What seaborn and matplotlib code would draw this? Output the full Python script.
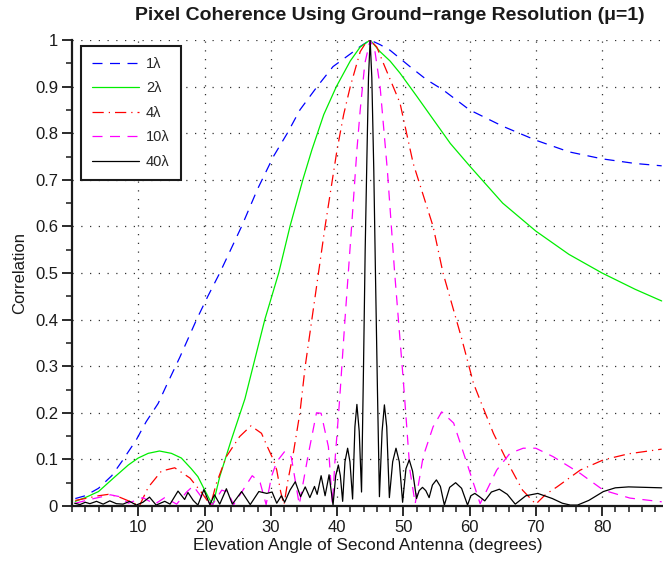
import matplotlib
matplotlib.use("Agg")
import matplotlib.pyplot as plt
import seaborn as sns
import pandas as pd
from matplotlib.ticker import MultipleLocator, FixedLocator, FuncFormatter

# ---------------- data ----------------
x_1 = [0.5, 2, 4, 6, 7.5, 9.7, 11.2, 13, 14.3, 16.3, 18.8, 20.5, 22.3, 25.6, 28, 30.4, 32.5,
       34.4, 37, 39.4, 42, 43.5, 45, 46.5, 48, 51, 53.5, 56, 60, 65, 70, 75, 80, 85, 89]
y_1 = [0.016, 0.022, 0.038, 0.065, 0.095, 0.142, 0.181, 0.22, 0.26, 0.32, 0.40, 0.45, 0.50,
       0.60, 0.68, 0.75, 0.80, 0.85, 0.90, 0.943, 0.97, 0.986, 1.0, 0.99, 0.978, 0.943, 0.915,
       0.893, 0.85, 0.815, 0.785, 0.76, 0.745, 0.735, 0.73]

x_2 = [0.5, 2, 4, 6.5, 8.5, 10, 11.5, 13.2, 15, 16.5, 18, 19, 20, 20.8, 21.3, 22.3, 24, 26.1,
       29.1, 31.2, 32.9, 34.9, 36.2, 38, 39.9, 42, 43.5, 45, 46.5, 48, 49.5, 52, 54.5, 57.1, 60,
       65, 70, 75, 80, 85, 89]
y_2 = [0.01, 0.018, 0.031, 0.063, 0.088, 0.103, 0.113, 0.118, 0.113, 0.103, 0.08, 0.063, 0.035,
       0.013, 0.004, 0.063, 0.14, 0.23, 0.40, 0.50, 0.60, 0.703, 0.764, 0.84, 0.90, 0.955, 0.985,
       1.0, 0.975, 0.955, 0.929, 0.88, 0.83, 0.778, 0.73, 0.65, 0.59, 0.54, 0.50, 0.465, 0.44]

x_4 = [0.5, 2, 4, 5.5, 7, 8.7, 10.2, 11.5, 13.5, 15.5, 17.8, 19.5, 20.9, 21.8, 23.3, 25.3, 27,
       28.6, 29.4, 30.4, 30.9, 31.5, 32.0, 32.6, 33.4, 34.4, 35.2, 36.2, 37.2, 38.2, 40, 41,
       42, 43.5, 44.3, 45, 46, 47, 49.5, 51.5, 54.5, 56, 58.8, 60.6, 61.6, 63.6, 64.6, 66.1, 68,
       70, 71.5, 73.2, 76.7, 80.2, 84, 89]
y_4 = [0.012, 0.016, 0.022, 0.025, 0.02, 0.01, 0.001, 0.04, 0.075, 0.082, 0.06, 0.03, 0.002,
       0.049, 0.106, 0.149, 0.172, 0.156, 0.13, 0.099, 0.077, 0.03, 0.003, 0.056, 0.113, 0.2,
       0.3, 0.4, 0.5, 0.6, 0.764, 0.84, 0.9, 0.975, 0.993, 1.0, 0.985, 0.95, 0.865, 0.735, 0.6,
       0.5, 0.36, 0.263, 0.227, 0.156, 0.127, 0.084, 0.034, 0.004, 0.025, 0.041, 0.077, 0.099,
       0.112, 0.122]

x_10 = [0.5, 3, 5.8, 7.2, 8.5, 10.7, 12.5, 14, 15.8, 17.3, 18.3, 19.5, 21.2, 22.6, 23.5, 24.4,
        25.8, 27.2, 28.4, 29.3, 30.1, 30.9, 32.1, 33.1, 34.3, 35.6, 36.9, 37.6, 38.7, 39.3, 39.7,
        40.4, 41.2, 41.7, 42.2, 43.0, 43.5, 44.2, 45, 45.7, 46.5, 47.6, 48.7, 50, 50.3, 51, 51.8,
        53, 54.5, 55.8, 57.6, 59.6, 61.6, 64.1, 66.1, 68.1, 70, 72.6, 76.7, 80.2, 84.2, 89]
y_10 = [0.006, 0.015, 0.024, 0.02, 0.006, 0.018, 0.004, 0.018, 0.004, 0.03, 0.043, 0.02, 0.003,
        0.034, 0.03, 0.003, 0.034, 0.065, 0.05, 0.003, 0.063, 0.095, 0.117, 0.105, 0.003, 0.106,
        0.2, 0.199, 0.127, 0.004, 0.099, 0.23, 0.4, 0.5, 0.6, 0.764, 0.85, 0.95, 1.0, 0.978, 0.9,
        0.72, 0.5, 0.27, 0.213, 0.077, 0.005, 0.106, 0.17, 0.202, 0.178, 0.092, 0.005, 0.077,
        0.113, 0.124, 0.124, 0.106, 0.07, 0.034, 0.017, 0.009]

x_40 = [0.4, 1.2, 2.0, 2.7, 3.7, 4.7, 5.7, 6.7, 7.7, 8.7, 9.7, 10.7, 11.7, 12.7, 14.0, 14.8,
        16.0, 17.0, 17.5, 18.3, 19.0, 19.9, 20.8, 21.5, 22.3, 23.3, 24.2, 25.6, 26.9, 28.2, 29.4,
        30.2, 30.9, 31.6, 32.1, 32.9, 33.7, 34.5, 35.2, 35.9, 36.6, 37.0, 37.6, 38.2, 38.8, 39.4,
        39.8, 40.2, 40.5, 40.85, 41.2, 41.6, 41.95, 42.35, 42.7, 43.0, 43.35, 43.7, 44.0, 44.25,
        44.5, 44.75, 45.0, 45.25, 45.55, 45.8, 46.1, 46.4, 46.8, 47.15, 47.5, 47.9, 48.4, 48.9,
        49.4, 49.9, 50.4, 50.9, 51.4, 52.0, 52.4, 52.9, 53.4, 53.9, 54.4, 55.0, 55.6, 56.2, 57.0,
        57.9, 58.8, 59.7, 60.2, 60.8, 61.5, 62.3, 63.3, 64.5, 65.7, 66.9, 68.5, 70.3, 72.5, 74.0,
        75.2, 76.3, 78.0, 80.2, 82.0, 84.0, 86.5, 89.0]
y_40 = [0.006, 0.003, 0.008, 0.005, 0.01, 0.004, 0.011, 0.005, 0.004, 0.01, 0.002, 0.008, 0.019,
        0.002, 0.01, 0.004, 0.032, 0.014, 0.029, 0.012, 0.002, 0.035, 0.003, 0.024, 0.004, 0.037,
        0.004, 0.031, 0.003, 0.031, 0.027, 0.03, 0.006, 0.022, 0.008, 0.034, 0.052, 0.02, 0.041,
        0.018, 0.042, 0.025, 0.065, 0.022, 0.067, 0.002,
        0.065, 0.088, 0.065, 0.01, 0.095, 0.124, 0.095, 0.015, 0.17, 0.218, 0.16, 0.03, 0.3, 0.55,
        0.74, 0.92, 1.0, 0.92, 0.72, 0.5, 0.25, 0.02, 0.16, 0.217, 0.17, 0.018, 0.095, 0.124,
        0.095, 0.008, 0.08, 0.099, 0.075, 0.016, 0.033, 0.04, 0.033, 0.018, 0.045, 0.056, 0.042,
        0.002, 0.04, 0.05, 0.038, 0.002, 0.022, 0.027, 0.02, 0.011, 0.03, 0.036, 0.025, 0.004,
        0.022, 0.027, 0.016, 0.006, 0.002, 0.002, 0.012, 0.031, 0.039, 0.041, 0.04, 0.039]

labels = ["1\u03bb", "2\u03bb", "4\u03bb", "10\u03bb", "40\u03bb"]
colors = ["#0000ff", "#00ee00", "#ff0000", "#ff00ff", "#000000"]
styles = [(0, (8, 6)), "-", (0, (9, 4, 1, 4)), (0, (8, 6)), "-"]
series = [(x_1, y_1), (x_2, y_2), (x_4, y_4), (x_10, y_10), (x_40, y_40)]

# ---------------- plot ----------------
sns.set_theme(style="ticks")
plt.rcParams["font.family"] = ["Liberation Sans", "DejaVu Sans"]

fig = plt.figure(figsize=(6.63, 5.66), dpi=100)
ax = fig.add_axes([72 / 663, 1 - 506 / 566, 1 - 72 / 663, (506 - 40) / 566])

for (xs, ys), lab, col, ls in zip(series, labels, colors, styles):
    df = pd.DataFrame({"x": xs, "y": ys})
    sns.lineplot(data=df, x="x", y="y", ax=ax, color=col, linestyle=ls, linewidth=0.9,
                 label=lab, estimator=None, sort=False)

ax.set_xlim(0, 89.2)
ax.set_ylim(0, 1)
ax.xaxis.set_major_locator(FixedLocator([10, 20, 30, 40, 50, 60, 70, 80]))
ax.xaxis.set_minor_locator(MultipleLocator(2))
ax.yaxis.set_major_locator(MultipleLocator(0.1))
ax.yaxis.set_minor_locator(MultipleLocator(0.05))
ax.yaxis.set_major_formatter(FuncFormatter(lambda v, p: f"{v:g}"))

ax.tick_params(axis="both", which="major", direction="out", length=7, width=1.3,
               labelsize=12, color="k", labelcolor="k", pad=3)
ax.tick_params(axis="both", which="minor", direction="out", length=4, width=1.1, color="k")

for s in ["top", "right"]:
    ax.spines[s].set_visible(False)
for s in ["left", "bottom"]:
    ax.spines[s].set_linewidth(1.6)
    ax.spines[s].set_color("k")

ax.grid(True, which="major", color="#333333", linestyle=(0, (1, 6)), linewidth=0.9)
ax.set_axisbelow(True)

ax.set_xlabel("Elevation Angle of Second Antenna (degrees)", fontsize=12.4, color="k", labelpad=2)
ax.set_ylabel("Correlation", fontsize=12, color="k", labelpad=6)
fig.text(390 / 663, 1 - 16 / 566, "Pixel Coherence Using Ground\u2212range Resolution (\u03bc=1)",
         ha="center", va="center", fontsize=14, fontweight="bold", color="k")

leg = ax.legend(loc="upper left", bbox_to_anchor=(0.0152, 0.987), borderaxespad=0,
                fontsize=10.5, handlelength=3.2, labelspacing=0.72, handletextpad=0.5,
                fancybox=False, framealpha=1, edgecolor="k", borderpad=0.75)
leg.get_frame().set_linewidth(1.5)

fig.savefig("out.png", dpi=100)
